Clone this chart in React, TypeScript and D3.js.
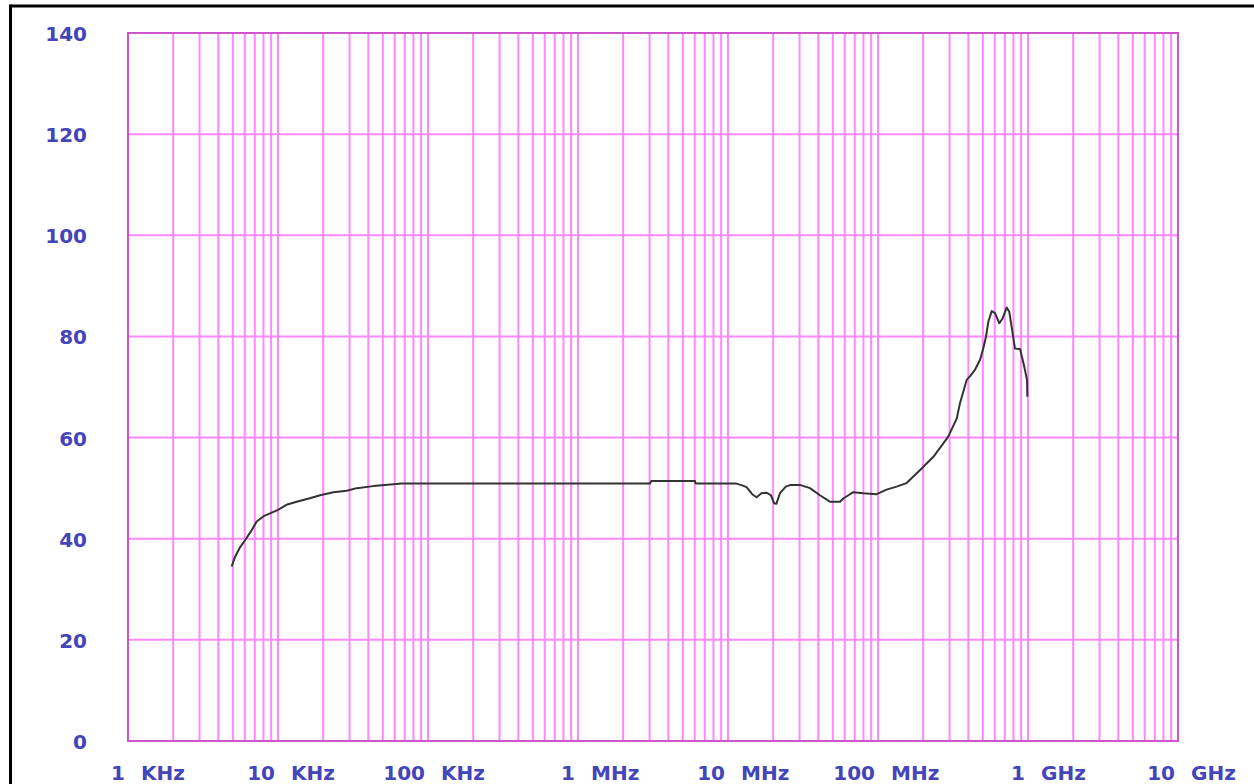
import React from "react";
import * as d3 from "d3";

const freqsHz: number[] = [
  4910, 5170, 5580, 6030, 6680, 7210, 7980, 8850, 10000, 11400, 13300, 16300,
  19100, 23400, 28700, 33500, 43200, 66800, 3020000, 3080000, 6030000, 6080000,
  11400000, 12300000, 13300000, 14500000, 15500000, 16700000, 18000000, 19300000,
  20300000, 21000000, 22200000, 24300000, 25900000, 30500000, 35200000, 41000000,
  48000000, 55800000, 59000000, 63500000, 68400000, 79800000, 97900000,
  114000000, 133000000, 155000000, 191000000, 234000000, 294000000, 335000000,
  352000000, 390000000, 410000000, 443000000, 479000000, 504000000, 525000000,
  544000000, 573000000, 603000000, 644000000, 678000000, 721000000, 750000000,
  778000000, 819000000, 885000000, 940000000, 985000000, 990000000,
];

const levels: number[] = [
  34.5, 36.4, 38.3, 39.7, 41.7, 43.4, 44.4, 45.0, 45.7, 46.7, 47.3, 48.0,
  48.6, 49.2, 49.5, 50.0, 50.4, 50.9, 50.9, 51.4, 51.4, 50.9,
  50.9, 50.6, 50.2, 48.8, 48.2, 49.0, 49.1, 48.6,
  47.0, 46.9, 49.0, 50.3, 50.6, 50.6, 50.0, 48.6,
  47.3, 47.3, 48.0, 48.6, 49.2, 49.0, 48.8,
  49.7, 50.3, 51.0, 53.6, 56.2, 60.2, 63.8,
  66.8, 71.4, 72.1, 73.4, 75.4, 77.7, 80.0,
  82.9, 85.0, 84.6, 82.6, 83.6, 85.7, 84.9,
  81.9, 77.6, 77.5, 74.3, 71.4, 68.1,
];

const yTicks: number[] = [0, 20, 40, 60, 80, 100, 120, 140];
const xTickValues: number[] = [1e3, 1e4, 1e5, 1e6, 1e7, 1e8, 1e9, 1e10];
const xTickNumbers: string[] = ["1", "10", "100", "1", "10", "100", "1", "10"];
const xTickUnits: string[] = ["KHz", "KHz", "KHz", "MHz", "MHz", "MHz", "GHz", "GHz"];

const W = 1254;
const H = 784;
const left = 128;
const right = 1178;
const top = 33;
const bottom = 741;

const labelColor = "#4444bb";
const gridColor = "#ff88ff";
const frameColor = "#cc55cc";
const fontFamily = "'DejaVu Sans', Verdana, sans-serif";

export default function App() {
  const x = d3.scaleLog().domain([1e3, 1e10]).range([left, right]);
  const y = d3.scaleLinear().domain([0, 140]).range([bottom, top]);

  const minorLines: number[] = [];
  for (let e = 3; e < 10; e++) {
    for (let m = 1; m <= 9; m++) minorLines.push(m * Math.pow(10, e));
  }
  minorLines.push(1e10);

  const data = freqsHz.map((f, i) => [f, levels[i]] as [number, number]);
  const line = d3
    .line<[number, number]>()
    .x((d) => x(d[0]))
    .y((d) => y(d[1]));

  return (
    <svg
      width={W}
      height={H}
      style={{ position: "fixed", left: 0, top: 0, background: "#fff" }}
    >
      <rect x={0} y={0} width={W} height={H} fill="#fff" />
      {/* outer frame (partially cropped) */}
      <line x1={10.5} y1={6} x2={W + 5} y2={6} stroke="#000" strokeWidth={3} />
      <line x1={10.5} y1={4.5} x2={10.5} y2={H + 5} stroke="#000" strokeWidth={3} />

      {/* vertical grid */}
      {minorLines.map((f, i) => (
        <line
          key={"v" + i}
          x1={x(f)}
          x2={x(f)}
          y1={top}
          y2={bottom}
          stroke={gridColor}
          strokeWidth={2}
        />
      ))}
      {/* horizontal grid */}
      {yTicks.map((t) => (
        <line
          key={"h" + t}
          x1={left}
          x2={right}
          y1={y(t)}
          y2={y(t)}
          stroke={gridColor}
          strokeWidth={2}
        />
      ))}
      {/* plot frame */}
      <rect
        x={left}
        y={top}
        width={right - left}
        height={bottom - top}
        fill="none"
        stroke={frameColor}
        strokeWidth={2}
      />

      {/* curve */}
      <path d={line(data) || ""} fill="none" stroke="#333" strokeWidth={2} strokeLinejoin="round" />

      {/* y labels */}
      {yTicks.map((t) => (
        <text
          key={"yl" + t}
          x={87}
          y={y(t) + 8}
          textAnchor="end"
          fill={labelColor}
          fontFamily={fontFamily}
          fontWeight="bold"
          fontSize={20}
        >
          {t}
        </text>
      ))}

      {/* x labels */}
      {xTickValues.map((v, i) => (
        <g key={"xl" + i}>
          <text
            x={x(v) - 3}
            y={780}
            textAnchor="end"
            fill={labelColor}
            fontFamily={fontFamily}
            fontWeight="bold"
            fontSize={20}
          >
            {xTickNumbers[i]}
          </text>
          <text
            x={x(v) + 13}
            y={780}
            textAnchor="start"
            fill={labelColor}
            fontFamily={fontFamily}
            fontWeight="bold"
            fontSize={20}
          >
            {xTickUnits[i]}
          </text>
        </g>
      ))}
    </svg>
  );
}
